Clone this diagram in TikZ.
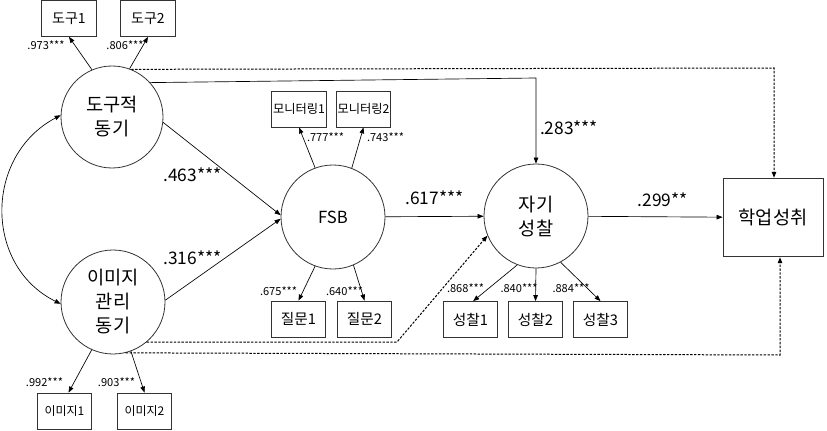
\documentclass[tikz,border=0pt]{standalone}
\usepackage{fontspec}
\setmainfont{Noto Sans CJK KR}
\usetikzlibrary{arrows.meta}
\tikzset{
  lat/.style={draw=black!80, line width=0.6pt, circle, inner sep=0pt, minimum size=#1, align=center, font=\fontsize{14}{18}\selectfont},
  obs/.style={draw=black!80, line width=0.6pt, rectangle, inner sep=0pt, minimum height=27pt, minimum width=41pt, font=\fontsize{10.5}{12}\selectfont},
  arr/.style={line width=0.5pt, -{Triangle[length=4.5pt,width=3.4pt]}},
  darr/.style={line width=0.5pt, {Triangle[length=4.5pt,width=3.4pt]}-{Triangle[length=4.5pt,width=3.4pt]}},
  dsh/.style={line width=0.75pt, dash pattern=on 1.8pt off 1.1pt},
  coefL/.style={font=\fontsize{13}{15}\selectfont, inner sep=0pt},
  coefS/.style={font=\fontsize{8.3}{10}\selectfont, inner sep=0pt}
}
\begin{document}
\begin{tikzpicture}[x=0.75pt,y=-0.75pt]
\useasboundingbox (0,0) rectangle (827,431);
% latent variables
\node[lat=76.5pt] (lat1) at (112,117) {도구적\\동기};
\node[lat=78pt] (lat2) at (113,302) {이미지\\관리\\동기};
\node[lat=78pt] (fsb) at (333,217) {\fontsize{12.5}{15}\selectfont FSB};
\node[lat=78pt] (ref) at (536,216) {자기\\성찰};
\node[obs, minimum width=75pt, minimum height=59pt, font=\fontsize{14}{17}\selectfont] (ach) at (773,217.5) {학업성취};
% indicators
\node[obs] (d1) at (69,18.5) {도구1};
\node[obs] (d2) at (148,18.5) {도구2};
\node[obs, font=\fontsize{9.2}{11}\selectfont] (m1) at (299,109) {모니터링1};
\node[obs, font=\fontsize{9.2}{11}\selectfont] (m2) at (363.5,109) {모니터링2};
\node[obs, font=\fontsize{11}{13}\selectfont] (q1) at (298.5,319) {질문1};
\node[obs, font=\fontsize{11}{13}\selectfont] (q2) at (364.5,319) {질문2};
\node[obs, font=\fontsize{11}{13}\selectfont] (s1) at (470.5,319.5) {성찰1};
\node[obs, font=\fontsize{11}{13}\selectfont] (s2) at (535.5,319.5) {성찰2};
\node[obs, font=\fontsize{11}{13}\selectfont] (s3) at (600.5,319.5) {성찰3};
\node[obs, font=\fontsize{9}{11}\selectfont] (i1) at (64.5,411) {이미지1};
\node[obs, font=\fontsize{9}{11}\selectfont] (i2) at (144.5,411) {이미지2};
% measurement arrows
\draw[arr] (lat1.113) -- (d1.south);
\draw[arr] (lat1.70) -- (d2.south);
\draw[arr] (lat2.246) -- ([xshift=3pt]i1.north);
\draw[arr] (lat2.290) -- (i2.north);
\draw[arr] (fsb.110) -- (m1.south);
\draw[arr] (fsb.69) -- (m2.south);
\draw[arr] (fsb.250) -- (q1.north);
\draw[arr] (fsb.293) -- (q2.north);
\draw[arr] (ref.249) -- ([xshift=2pt]s1.north);
\draw[arr] (ref.270) -- (s2.north);
\draw[arr] (ref.298) -- (s3.north);
% structural paths
\draw[arr] (lat1.-6) -- (fsb.178);
\draw[arr] (lat2.2) -- (fsb.182);
\draw[arr] (fsb) -- (ref);
\draw[arr] (ref) -- (ach);
\coordinate (c1) at (536,78);
\draw[arr] (lat1.42) -- (c1) -- (ref.north);
\coordinate (c2) at (774,68);
\draw[arr, dsh] (lat1.68) -- (c2) -- (c2 |- ach.north);
\coordinate (c3) at (397,342);
\draw[arr, dsh] (lat2.-50) -- (c3) -- (ref.202);
\coordinate (c4) at (780,355);
\draw[arr, dsh] (lat2.-76) -- (c4) -- (c4 |- ach.south);
% covariance
\draw[darr] (lat1.178) .. controls (-16,156) and (-16,266) .. (lat2.182);
% coefficient labels
\node[coefS] (t1) at (46,45) {.973***};
\node[coefS] (t2) at (125,45) {.806***};
\node[coefS] (t3) at (44.5,382) {.992***};
\node[coefS] (t4) at (116.5,382) {.903***};
\node[coefS] (t5) at (325.5,137) {.777***};
\node[coefS] (t6) at (385.5,137) {.743***};
\node[coefS] (t7) at (278.5,291) {.675***};
\node[coefS] (t8) at (344.5,291) {.640***};
\node[coefS] (t9) at (465.5,288) {.868***};
\node[coefS] (t10) at (519,288) {.840***};
\node[coefS] (t11) at (571,288) {.884***};
\node[coefL] (t12) at (192.5,175) {.463***};
\node[coefL] (t13) at (192.5,258) {.316***};
\node[coefL] (t14) at (434.5,198) {.617***};
\node[coefL] (t15) at (662.5,200) {.299**};
\node[coefL] (t16) at (569,128) {.283***};
\end{tikzpicture}
\end{document}
